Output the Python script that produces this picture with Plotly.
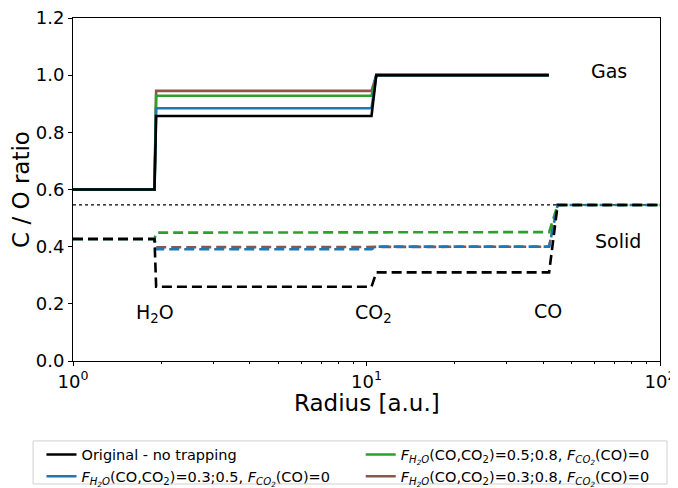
import math
import plotly.graph_objects as go

# ---- data ----
gas_x = [1.0, 1.895, 1.92, 10.4, 10.8, 41.8]
gas_original = [0.6, 0.6, 0.857, 0.857, 1.0, 1.0]
gas_f03_05 = [0.6, 0.6, 0.884, 0.884, 1.0, 1.0]
gas_f05_08 = [0.6, 0.6, 0.928, 0.928, 1.0, 1.0]
gas_f03_08 = [0.6, 0.6, 0.945, 0.945, 1.0, 1.0]

solid_x = [1.0, 1.895, 1.92, 10.4, 10.8, 41.9, 44.8, 100.0]
solid_original = [0.427, 0.427, 0.26, 0.26, 0.31, 0.31, 0.546, 0.546]
solid_f03_05 = [0.427, 0.427, 0.391, 0.391, 0.40, 0.40, 0.546, 0.546]
solid_f05_08 = [0.427, 0.427, 0.449, 0.449, 0.451, 0.451, 0.546, 0.546]
solid_f03_08 = [0.427, 0.427, 0.398, 0.398, 0.40, 0.40, 0.546, 0.546]

stellar_co = 0.546
dotted_x = [1.0, 100.0]

labels = [
    "Original - no trapping",
    "<i>F</i><sub><i>H<sub>2</sub>O</i></sub>(CO,CO<sub>2</sub>)=0.3;0.5, <i>F</i><sub><i>CO<sub>2</sub></i></sub>(CO)=0",
    "<i>F</i><sub><i>H<sub>2</sub>O</i></sub>(CO,CO<sub>2</sub>)=0.5;0.8, <i>F</i><sub><i>CO<sub>2</sub></i></sub>(CO)=0",
    "<i>F</i><sub><i>H<sub>2</sub>O</i></sub>(CO,CO<sub>2</sub>)=0.3;0.8, <i>F</i><sub><i>CO<sub>2</sub></i></sub>(CO)=0",
]
colors = ["#000000", "#1f77b4", "#2ca02c", "#8c564b"]
legend_ids = ["legend", "legend", "legend2", "legend2"]
ranks = [1, 2, 1, 2]

x_tickvals = [1, 10, 100]
x_ticktext = ["10<sup>0</sup>", "10<sup>1</sup>", "10<sup>2</sup>"]
minor_vals = [2, 3, 4, 5, 6, 7, 8, 9, 20, 30, 40, 50, 60, 70, 80, 90]
y_tickvals = [0.0, 0.2, 0.4, 0.6, 0.8, 1.0, 1.2]

ann_texts = ["H<sub>2</sub>O", "CO<sub>2</sub>", "CO", "Gas", "Solid"]
ann_x = [1.9, 10.6, 41.5, 67.0, 72.0]
ann_y = [0.165, 0.165, 0.175, 1.015, 0.42]

x_title = "Radius [a.u.]"
y_title = "C / O ratio"

gas = [gas_original, gas_f03_05, gas_f05_08, gas_f03_08]
solid = [solid_original, solid_f03_05, solid_f05_08, solid_f03_08]

fig = go.Figure()

# dotted reference line
fig.add_trace(go.Scatter(x=dotted_x, y=[stellar_co, stellar_co], mode="lines",
                         line=dict(color="black", width=1.2, dash="dot"),
                         showlegend=False, hoverinfo="skip"))

# solid (ice) dashed lines: brown, green, blue, black on top
for i in [3, 2, 1, 0]:
    fig.add_trace(go.Scatter(x=solid_x, y=solid[i], mode="lines",
                             line=dict(color=colors[i], width=2.6, dash="10px,5px"),
                             showlegend=False, hoverinfo="skip"))

# gas solid lines: colored first, black on top
for i in [3, 2, 1, 0]:
    fig.add_trace(go.Scatter(x=gas_x, y=gas[i], mode="lines", name=labels[i],
                             line=dict(color=colors[i], width=2.6),
                             legend=legend_ids[i], legendrank=ranks[i]))

ann_font = dict(family="DejaVu Sans", size=19, color="black")
for t, ax_, ay_ in zip(ann_texts, ann_x, ann_y):
    fig.add_annotation(x=math.log10(ax_), y=ay_, xref="x", yref="y", text=t,
                       showarrow=False, font=ann_font, xanchor="center", yanchor="middle")

# x-axis title as a positioned annotation
fig.add_annotation(x=0.5, y=-0.122, xref="paper", yref="paper", text=x_title,
                   showarrow=False, font=dict(family="DejaVu Sans", size=23, color="black"),
                   xanchor="center", yanchor="middle")

# legend frame
fig.add_shape(type="rect", xref="paper", yref="paper",
              x0=-0.068, x1=1.012, y0=-0.3586, y1=-0.233,
              line=dict(color="#d0d0d0", width=1), fillcolor="rgba(0,0,0,0)", layer="above")

leg_font = dict(family="DejaVu Sans", size=14.5, color="black")
fig.update_layout(
    width=678, height=480,
    margin=dict(l=65, r=26, t=10, b=127, autoexpand=False),
    plot_bgcolor="white", paper_bgcolor="white",
    font=dict(family="DejaVu Sans", color="black"),
    showlegend=True,
    legend=dict(orientation="v", x=-0.0537, y=-0.226, xanchor="left", yanchor="top",
                borderwidth=0, bgcolor="rgba(0,0,0,0)", font=leg_font,
                tracegroupgap=0, traceorder="normal"),
    legend2=dict(orientation="v", x=0.991, y=-0.226, xanchor="right", yanchor="top",
                 borderwidth=0, bgcolor="rgba(0,0,0,0)", font=leg_font,
                 tracegroupgap=0, traceorder="normal"),
)

fig.update_xaxes(type="log", range=[0, 2], tickvals=x_tickvals, ticktext=x_ticktext,
                 ticks="outside", ticklen=4, tickwidth=1, tickcolor="black",
                 tickfont=dict(size=18), showgrid=False, zeroline=False,
                 showline=True, linecolor="black", linewidth=1, mirror=True,
                 automargin=False, ticklabeloverflow="allow",
                 minor=dict(tickvals=minor_vals, ticks="outside", ticklen=2,
                            tickwidth=0.8, tickcolor="black", showgrid=False))
fig.update_yaxes(range=[0, 1.2], tickvals=y_tickvals, tickformat=".1f",
                 ticks="outside", ticklen=4, tickwidth=1, tickcolor="black",
                 tickfont=dict(size=18), showgrid=False, zeroline=False,
                 showline=True, linecolor="black", linewidth=1, mirror=True,
                 automargin=False, ticklabeloverflow="allow",
                 title=dict(text=y_title, font=dict(size=23), standoff=12))

fig.write_html("out.html")
